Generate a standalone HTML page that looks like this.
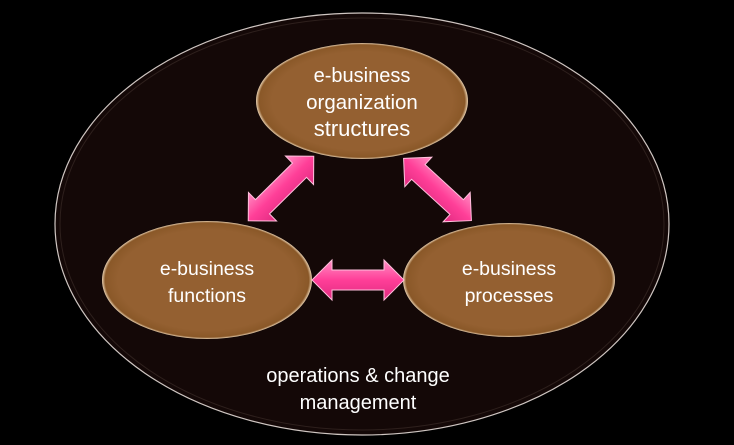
<!DOCTYPE html>
<html><head><style>
html,body{margin:0;padding:0;background:#000;}
svg{display:block;}
text{font-family:"Liberation Sans",sans-serif;fill:#fff;text-anchor:middle;}
</style></head><body>
<svg width="734" height="445" viewBox="0 0 734 445" xmlns="http://www.w3.org/2000/svg">
<defs>
<radialGradient id="b" cx="50%" cy="50%" r="50%">
<stop offset="0.85" stop-color="#946031"/><stop offset="0.97" stop-color="#8a5828"/><stop offset="1" stop-color="#e8d0b0"/>
</radialGradient>
<linearGradient id="p" x1="0" y1="0" x2="0" y2="1">
<stop offset="0" stop-color="#ff8fc4"/><stop offset="0.5" stop-color="#ff3f98"/><stop offset="1" stop-color="#e02a80"/>
</linearGradient>
<polygon id="a" points="-46,0 -26,-20 -26,-10 26,-10 26,-20 46,0 26,20 26,10 -26,10 -26,20" fill="url(#p)" stroke="#ffc0dd" stroke-width="1"/>
</defs>
<rect width="734" height="445" fill="#000"/>
<ellipse cx="362" cy="224" rx="307" ry="211" fill="#140807" stroke="#cfc6c2" stroke-width="1.2"/>
<ellipse cx="362" cy="224" rx="302" ry="206" fill="none" stroke="#2e201d" stroke-width="1"/>
<ellipse cx="362" cy="101" rx="106" ry="58" fill="url(#b)"/>
<ellipse cx="207" cy="280" rx="105" ry="59" fill="url(#b)"/>
<ellipse cx="509" cy="280" rx="106" ry="57" fill="url(#b)"/>
<use href="#a" transform="translate(281,188.5) rotate(-44.6)"/>
<use href="#a" transform="translate(437.5,189.5) rotate(42.5)"/>
<use href="#a" transform="translate(358,280)"/>
<text x="362" y="82" font-size="20">e-business</text>
<text x="362" y="109" font-size="20.5">organization</text>
<text x="362" y="136" font-size="22">structures</text>
<text x="207" y="275" font-size="19.5">e-business</text>
<text x="207" y="302" font-size="19.5">functions</text>
<text x="509" y="275" font-size="19.5">e-business</text>
<text x="509" y="302" font-size="19.5">processes</text>
<text x="358" y="382" font-size="20">operations &amp; change</text>
<text x="358" y="409" font-size="20">management</text>
</svg>
</body></html>
